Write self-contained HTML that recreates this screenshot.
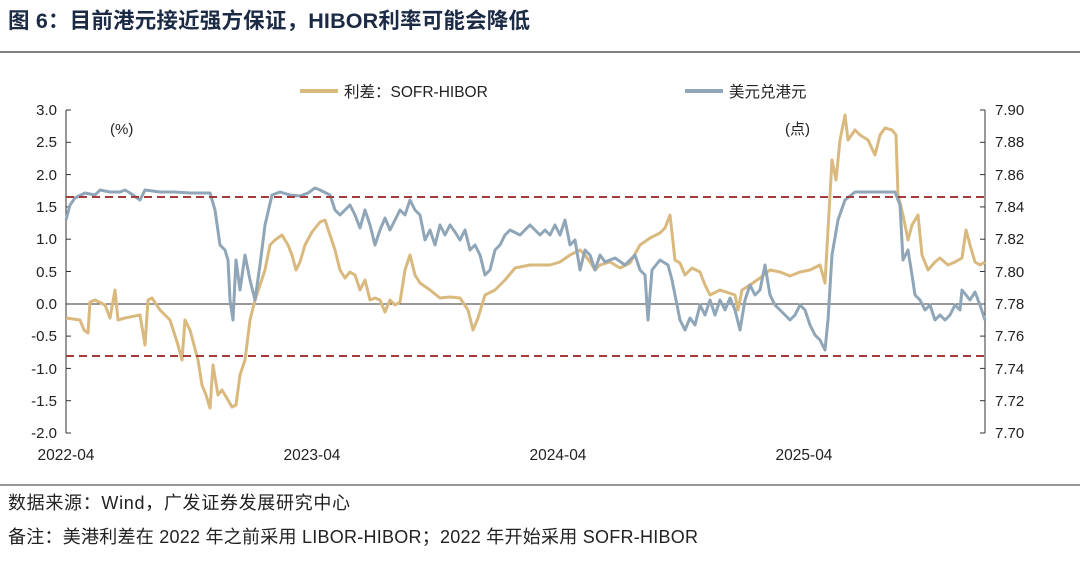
<!DOCTYPE html>
<html><head><meta charset="utf-8"><style>
body{margin:0;width:1080px;height:566px;background:#fff;overflow:hidden;font-family:"Liberation Sans","Noto Sans CJK SC",sans-serif;}
svg text{font-family:"Liberation Sans","Noto Sans CJK SC",sans-serif;}
</style></head><body>
<svg width="1080" height="566" xmlns="http://www.w3.org/2000/svg">
<text x="8" y="28" font-size="21.5" font-weight="bold" fill="#1b2a45" textLength="522">图  6：目前港元接近强方保证，HIBOR利率可能会降低</text>
<line x1="0" y1="52" x2="1080" y2="52" stroke="#333" stroke-width="1.2"/>
<line x1="300" y1="91" x2="338" y2="91" stroke="#d9b97e" stroke-width="4"/>
<text x="344" y="97" font-size="15.5" fill="#222">利差：SOFR-HIBOR</text>
<line x1="685" y1="91" x2="723" y2="91" stroke="#8fa5b8" stroke-width="4"/>
<text x="729" y="97" font-size="15.5" fill="#222">美元兑港元</text>
<text x="110" y="134" font-size="15" fill="#222">(%)</text>
<text x="785" y="134" font-size="15" fill="#222">(点)</text>
<g stroke="#333" stroke-width="1" fill="none">
<line x1="66" y1="110" x2="66" y2="433"/><line x1="985" y1="110" x2="985" y2="433"/>
<line x1="66" y1="304" x2="985" y2="304"/>
</g>
<g stroke="#333" stroke-width="1">
<line x1="66" y1="110" x2="71" y2="110"/><line x1="66" y1="142.3" x2="71" y2="142.3"/><line x1="66" y1="174.6" x2="71" y2="174.6"/><line x1="66" y1="206.9" x2="71" y2="206.9"/><line x1="66" y1="239.2" x2="71" y2="239.2"/><line x1="66" y1="271.5" x2="71" y2="271.5"/><line x1="66" y1="336.1" x2="71" y2="336.1"/><line x1="66" y1="368.4" x2="71" y2="368.4"/><line x1="66" y1="400.7" x2="71" y2="400.7"/><line x1="66" y1="433" x2="71" y2="433"/>
<line x1="980" y1="110" x2="985" y2="110"/><line x1="980" y1="142.3" x2="985" y2="142.3"/><line x1="980" y1="174.6" x2="985" y2="174.6"/><line x1="980" y1="206.9" x2="985" y2="206.9"/><line x1="980" y1="239.2" x2="985" y2="239.2"/><line x1="980" y1="271.5" x2="985" y2="271.5"/><line x1="980" y1="336.1" x2="985" y2="336.1"/><line x1="980" y1="368.4" x2="985" y2="368.4"/><line x1="980" y1="400.7" x2="985" y2="400.7"/><line x1="980" y1="433" x2="985" y2="433"/>
</g>
<g font-size="15" fill="#222" text-anchor="end">
<text x="57" y="115">3.0</text><text x="57" y="147">2.5</text><text x="57" y="180">2.0</text><text x="57" y="212">1.5</text><text x="57" y="244">1.0</text><text x="57" y="277">0.5</text><text x="57" y="309">0.0</text><text x="57" y="341">-0.5</text><text x="57" y="374">-1.0</text><text x="57" y="406">-1.5</text><text x="57" y="438">-2.0</text>
</g>
<g font-size="15" fill="#222">
<text x="995" y="115">7.90</text><text x="995" y="147">7.88</text><text x="995" y="180">7.86</text><text x="995" y="212">7.84</text><text x="995" y="244">7.82</text><text x="995" y="277">7.80</text><text x="995" y="309">7.78</text><text x="995" y="341">7.76</text><text x="995" y="374">7.74</text><text x="995" y="406">7.72</text><text x="995" y="438">7.70</text>
</g>
<g font-size="15.5" fill="#222" text-anchor="middle">
<text x="66" y="460">2022-04</text><text x="312" y="460">2023-04</text><text x="558" y="460">2024-04</text><text x="804" y="460">2025-04</text>
</g>
<polyline fill="none" stroke="#d9b97e" stroke-width="3" stroke-linejoin="round" points="66,318 80,320 84,330 88,333 90,302 95,300 105,305 110,318 115,290 118,320 125,318 140,315 145,345 148,300 152,298 160,310 170,320 178,345 182,360 185,320 190,330 198,360 202,385 206,395 210,408 213,365 218,395 222,390 228,400 232,407 236,405 240,375 245,360 250,320 255,300 260,285 265,270 270,245 275,240 282,235 288,245 292,255 296,270 300,262 305,245 312,232 320,222 325,220 330,235 335,250 340,270 345,278 350,272 355,275 360,290 365,280 370,300 375,298 380,300 385,312 390,300 395,305 400,302 405,270 410,255 415,275 420,283 430,290 440,298 450,297 460,298 468,310 473,330 478,318 485,295 495,290 505,280 515,268 530,265 550,265 560,262 570,255 580,250 585,255 590,262 595,270 600,265 610,262 620,268 630,263 640,245 650,238 660,233 665,228 670,215 675,260 680,263 685,275 692,268 700,272 705,285 710,295 720,290 735,295 738,310 742,290 750,285 760,278 770,270 780,272 790,276 800,272 810,270 820,265 825,283 828,230 832,160 836,180 840,140 845,115 848,140 855,130 860,135 868,140 875,155 880,135 885,128 892,130 896,135 898,195 903,215 908,240 912,225 918,215 922,255 928,270 935,262 940,258 948,265 955,262 962,258 966,230 970,245 975,262 980,265 985,262"/>
<polyline fill="none" stroke="#8fa5b8" stroke-width="3" stroke-linejoin="round" points="66,220 70,205 75,198 85,193 95,195 100,190 110,192 120,192 125,190 130,193 140,200 145,190 160,192 175,192 190,193 210,193 215,210 220,245 225,250 228,260 230,300 233,320 236,260 240,290 245,255 250,280 255,300 260,265 265,225 272,195 280,192 290,195 300,196 308,193 315,188 320,190 330,195 335,210 340,215 345,210 350,205 355,215 360,228 365,210 370,225 375,245 380,230 385,218 390,230 395,220 400,210 405,215 410,200 415,210 420,215 425,240 430,230 435,245 440,225 445,235 450,225 455,232 460,240 465,230 470,250 475,245 480,255 485,275 490,270 495,250 500,245 505,235 510,230 520,235 530,225 540,235 545,230 550,235 555,225 560,235 565,220 570,245 575,240 580,270 585,250 590,255 595,270 600,255 605,262 615,258 625,265 635,255 640,270 645,275 648,320 652,270 660,260 668,265 672,280 676,300 680,320 685,330 690,318 695,325 700,305 705,315 710,300 715,315 720,300 725,310 730,298 735,310 740,330 745,300 750,285 755,295 760,290 765,265 770,295 775,305 780,310 785,315 790,320 795,315 800,305 805,310 810,325 815,335 820,340 825,350 828,320 832,255 838,220 845,200 855,192 870,192 885,192 895,192 900,205 903,260 908,250 912,275 915,295 920,300 925,310 930,305 935,320 940,315 945,320 950,315 955,305 960,310 962,290 966,295 970,300 975,292 980,305 985,320"/>
<line x1="66" y1="197" x2="985" y2="197" stroke="#a33b3b" stroke-width="2" stroke-dasharray="8,5"/>
<line x1="66" y1="356" x2="985" y2="356" stroke="#a33b3b" stroke-width="2" stroke-dasharray="8,5"/>
<line x1="0" y1="485" x2="1080" y2="485" stroke="#333" stroke-width="1"/>
<text x="8" y="509" font-size="18" fill="#222" textLength="342">数据来源：Wind，广发证券发展研究中心</text>
<text x="8" y="543" font-size="18" fill="#222" textLength="690">备注：美港利差在 2022 年之前采用 LIBOR-HIBOR；2022 年开始采用 SOFR-HIBOR</text>
</svg>
</body></html>
